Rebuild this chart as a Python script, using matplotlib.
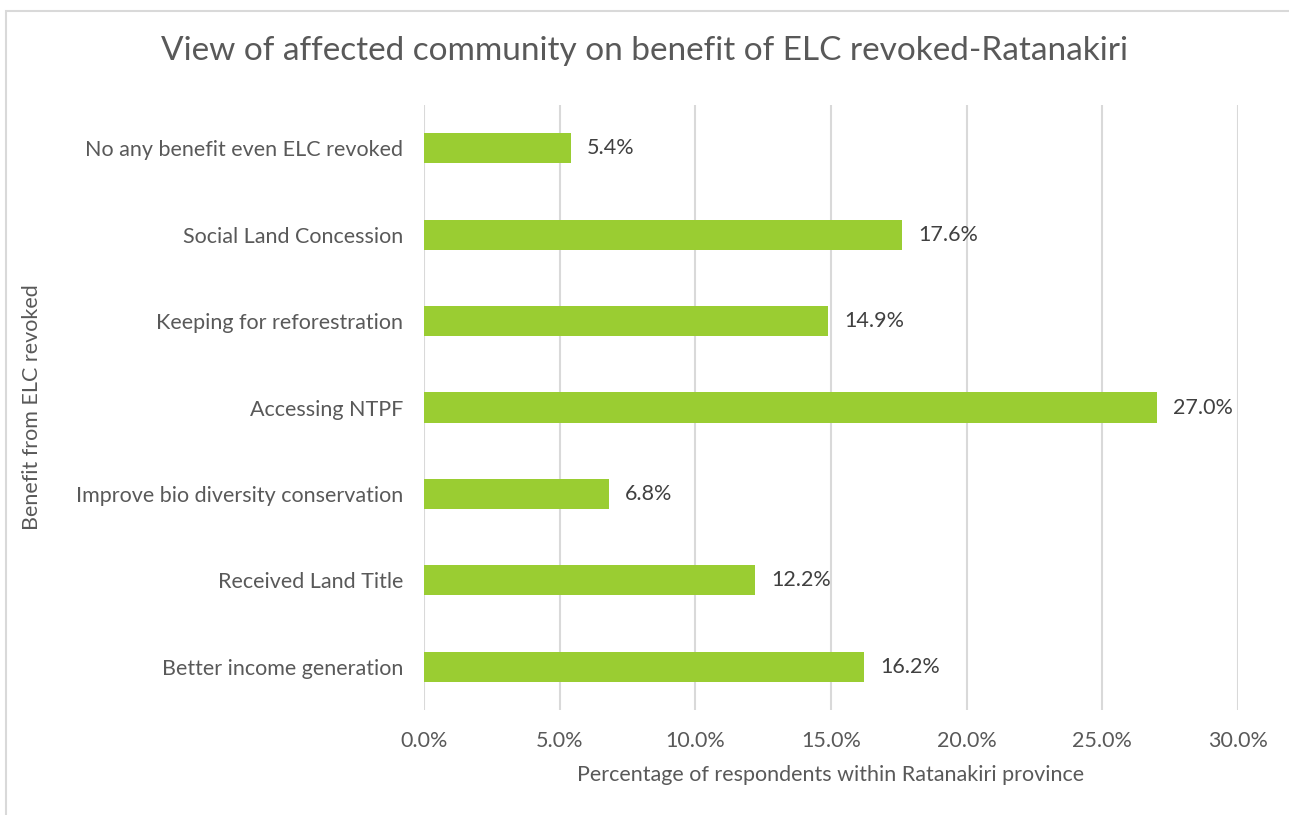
import matplotlib.pyplot as plt
from matplotlib.patches import Rectangle
from matplotlib.ticker import PercentFormatter

plt.rcParams['font.family'] = ['Lato', 'DejaVu Sans']

benefits = [
    "Better income generation",
    "Received Land Title",
    "Improve bio diversity conservation",
    "Accessing NTPF",
    "Keeping for reforestration",
    "Social Land Concession",
    "No any benefit even ELC revoked",
]
shares = [16.2, 12.2, 6.8, 27.0, 14.9, 17.6, 5.4]

text_grey = "#595959"

fig = plt.figure(figsize=(12.89, 8.15), dpi=100)
ax = fig.add_axes([0.329, 0.1288, 0.6314, 0.7424])

bars = ax.barh(range(len(benefits)), shares, height=0.35, color="#9ACD32", zorder=3)
for rect, v in zip(bars, shares):
    ax.text(rect.get_width() + 0.6, rect.get_y() + rect.get_height() / 2, f"{v:.1f}%",
            va="center", ha="left", fontsize=15.5, color="#404040", zorder=4)

ax.set_xlim(0, 30)
ax.set_ylim(-0.5, len(benefits) - 0.5)
ax.set_xticks(range(0, 31, 5))
ax.xaxis.set_major_formatter(PercentFormatter(decimals=1))
ax.set_yticks(range(len(benefits)))
ax.set_yticklabels(benefits)
ax.tick_params(axis="both", length=0, labelsize=15.5, labelcolor=text_grey)
ax.tick_params(axis="x", pad=15)
ax.tick_params(axis="y", pad=15)
ax.grid(axis="x", color="#d9d9d9", linewidth=1.5, zorder=0)
for s in ax.spines.values():
    s.set_visible(False)

ax.set_xlabel("Percentage of respondents within Ratanakiri province",
              fontsize=15.5, color=text_grey, labelpad=10)
ax.set_ylabel("Benefit from ELC revoked", fontsize=15.5, color=text_grey)
ax.yaxis.set_label_coords(-0.47, 0.5)

fig.text(0.5, 0.938, "View of affected community on benefit of ELC revoked-Ratanakiri",
         ha="center", va="center", fontsize=24, color=text_grey)

# thin frame around the chart area
fig.patches.append(Rectangle((6 / 1289, -0.01), 1.1, 1 - 11 / 815 + 0.01,
                             transform=fig.transFigure, fill=False,
                             edgecolor="#d9d9d9", linewidth=1.5))

fig.savefig("out.png", dpi=100)
